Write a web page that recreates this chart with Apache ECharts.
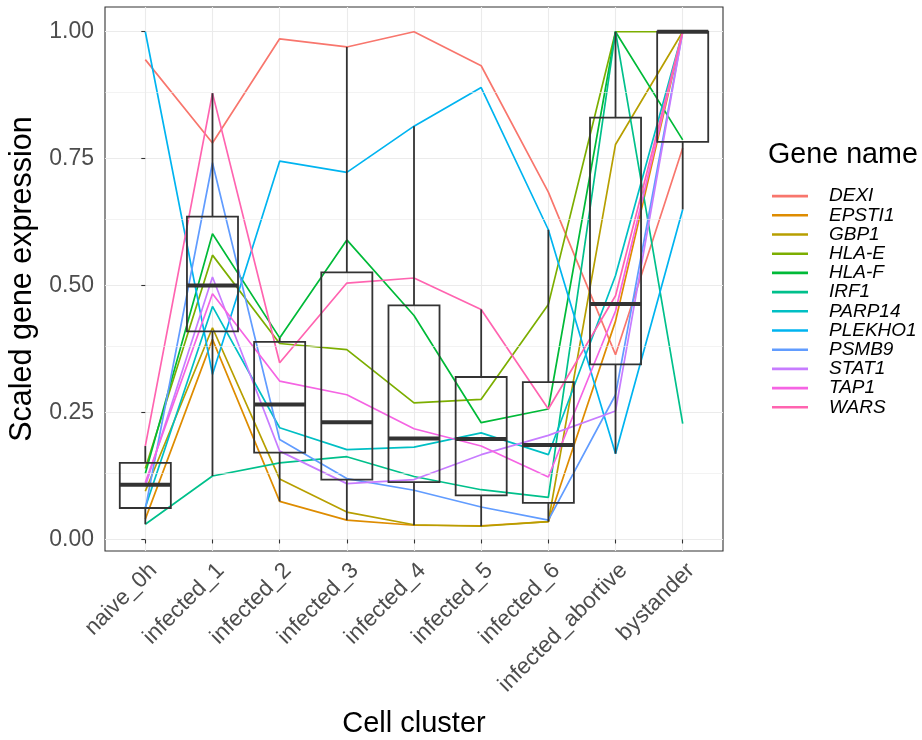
<!DOCTYPE html>
<html>
<head>
<meta charset="utf-8">
<script src="https://cdn.jsdelivr.net/npm/echarts@6/dist/echarts.min.js"></script>
<style>
  html, body { margin: 0; padding: 0; background: #fff; }
  #chart { width: 922px; height: 740px; }
</style>
</head>
<body>
<div id="chart"></div>
<script>
// Cell clusters along the x axis
const categories = ['naive_0h', 'infected_1', 'infected_2', 'infected_3', 'infected_4',
  'infected_5', 'infected_6', 'infected_abortive', 'bystander'];

// Scaled expression per gene, one value per cluster
const DEXI    = [0.945, 0.781, 0.986, 0.970, 1.000, 0.933, 0.684, 0.364, 0.771];
const EPSTI1  = [0.040, 0.394, 0.075, 0.038, 0.028, 0.027, 0.035, 0.430, 1.000];
const GBP1    = [0.095, 0.417, 0.119, 0.054, 0.029, 0.026, 0.035, 0.778, 1.000];
const HLA_E   = [0.140, 0.560, 0.386, 0.374, 0.269, 0.276, 0.463, 1.000, 1.000];
const HLA_F   = [0.130, 0.602, 0.397, 0.590, 0.441, 0.230, 0.257, 1.000, 0.787];
const IRF1    = [0.030, 0.125, 0.151, 0.163, 0.124, 0.098, 0.083, 1.000, 0.228];
const PARP14  = [0.063, 0.459, 0.220, 0.177, 0.182, 0.210, 0.167, 0.520, 1.000];
const PLEKHO1 = [1.000, 0.325, 0.745, 0.723, 0.814, 0.890, 0.610, 0.169, 0.650];
const PSMB9   = [0.060, 0.742, 0.197, 0.120, 0.097, 0.064, 0.038, 0.285, 1.000];
const STAT1   = [0.105, 0.517, 0.174, 0.110, 0.118, 0.167, 0.205, 0.253, 1.000];
const TAP1    = [0.112, 0.484, 0.312, 0.285, 0.218, 0.184, 0.123, 0.450, 1.000];
const WARS    = [0.184, 0.879, 0.348, 0.505, 0.515, 0.453, 0.257, 0.480, 1.000];

const geneNames = ['DEXI', 'EPSTI1', 'GBP1', 'HLA-E', 'HLA-F', 'IRF1', 'PARP14',
  'PLEKHO1', 'PSMB9', 'STAT1', 'TAP1', 'WARS'];
const geneValues = [DEXI, EPSTI1, GBP1, HLA_E, HLA_F, IRF1, PARP14,
  PLEKHO1, PSMB9, STAT1, TAP1, WARS];
const geneColors = ['#F8766D', '#DE8C00', '#B79F00', '#7CAE00', '#00BA38', '#00C08B',
  '#00BFC4', '#00B4F0', '#619CFF', '#C77CFF', '#F564E3', '#FF64B0'];

// Box summaries per cluster (whisker low, Q1, median, Q3, whisker high)
const boxLow    = [0.030, 0.125, 0.075, 0.038, 0.028, 0.026, 0.035, 0.169, 0.650];
const boxQ1     = [0.062, 0.410, 0.171, 0.118, 0.113, 0.087, 0.072, 0.345, 0.783];
const boxMedian = [0.108, 0.500, 0.266, 0.231, 0.199, 0.198, 0.186, 0.464, 1.000];
const boxQ3     = [0.151, 0.636, 0.389, 0.526, 0.461, 0.320, 0.310, 0.831, 1.000];
const boxHigh   = [0.184, 0.879, 0.397, 0.970, 0.814, 0.453, 0.610, 1.000, 1.000];

// Axis ticks
const yTicks = [0, 0.25, 0.5, 0.75, 1];
const yMinorTicks = [0.125, 0.375, 0.625, 0.875];
const xTicks = categories.map((c, i) => i);

const FONT = 'Liberation Sans, Arial, sans-serif';
const GRID_COLOR = '#EBEBEB';
const BOX_COLOR = '#333333';
const BOX_WIDTH = 0.76; // in x-axis units (one cluster = 1)

const chart = echarts.init(document.getElementById('chart'), null, { renderer: 'canvas' });

const lineSeries = geneNames.map((name, g) => ({
  name: name,
  type: 'line',
  data: geneValues[g].map((v, i) => [i, v]),
  symbol: 'none',
  lineStyle: { color: geneColors[g], width: 1.7 },
  itemStyle: { color: geneColors[g] },
  z: 3,
  silent: true
}));

// Box with whiskers (no end caps) and a bold median bar
function renderBox(params, api) {
  const x = api.value(0);
  const low = api.coord([x, api.value(1)]);
  const q1 = api.coord([x, api.value(2)]);
  const med = api.coord([x, api.value(3)]);
  const q3 = api.coord([x, api.value(4)]);
  const high = api.coord([x, api.value(5)]);
  const w = api.size([BOX_WIDTH, 0])[0];
  const cx = q1[0];
  const stroke = { stroke: BOX_COLOR, lineWidth: 1.8, fill: null };
  return {
    type: 'group',
    children: [
      { type: 'line', shape: { x1: cx, y1: q1[1], x2: cx, y2: low[1] }, style: stroke },
      { type: 'line', shape: { x1: cx, y1: q3[1], x2: cx, y2: high[1] }, style: stroke },
      { type: 'rect', shape: { x: cx - w / 2, y: q3[1], width: w, height: q1[1] - q3[1] },
        style: { stroke: BOX_COLOR, lineWidth: 1.8, fill: 'rgba(0,0,0,0)' } },
      { type: 'line', shape: { x1: cx - w / 2, y1: med[1], x2: cx + w / 2, y2: med[1] },
        style: { stroke: BOX_COLOR, lineWidth: 4 } }
    ]
  };
}

const option = {
  animation: false,
  backgroundColor: '#ffffff',
  textStyle: { fontFamily: FONT },
  title: {
    text: 'Gene name',
    left: 768,
    top: 141,
    padding: 0,
    textStyle: { fontFamily: FONT, fontSize: 28.7, fontWeight: 'normal', color: '#000' }
  },
  grid: {
    left: 105, right: 199, top: 7, bottom: 189,
    outerBoundsMode: 'none',
    containLabel: false,
    show: true, borderColor: '#333333', borderWidth: 1.1, backgroundColor: 'transparent'
  },
  legend: {
    orient: 'vertical',
    left: 772,
    top: 186.5,
    padding: 0,
    icon: 'rect',
    itemWidth: 36,
    itemHeight: 2.6,
    itemGap: 0,
    data: geneNames,
    textStyle: {
      fontFamily: FONT, fontSize: 19, fontStyle: 'italic', color: '#000',
      lineHeight: 19.2, padding: [0, 0, 0, 16]
    },
    selectedMode: false
  },
  xAxis: {
    type: 'value',
    min: -0.6, max: 8.6,
    splitNumber: 9, minInterval: 1, maxInterval: 1,
    name: 'Cell cluster',
    nameLocation: 'middle',
    nameGap: 158,
    nameTextStyle: { fontFamily: FONT, fontSize: 29, color: '#000' },
    axisLine: { show: false },
    axisTick: { show: true, length: 4, customValues: xTicks,
      lineStyle: { color: '#333333', width: 1.1 } },
    axisLabel: {
      rotate: 45, margin: 8, fontFamily: FONT, fontSize: 22.5, color: '#4D4D4D',
      verticalAlign: 'top',
      customValues: xTicks,
      formatter: v => (Number.isInteger(v) && categories[v]) ? categories[v] : ''
    },
    splitLine: { show: true, lineStyle: { color: GRID_COLOR, width: 1.1 } }
  },
  yAxis: {
    type: 'value',
    min: -0.0227, max: 1.0487,
    splitNumber: 4, minInterval: 0.25, maxInterval: 0.25,
    name: 'Scaled gene expression',
    nameLocation: 'middle',
    nameGap: 61,
    nameRotate: 90,
    nameTextStyle: { fontFamily: FONT, fontSize: 30.5, color: '#000' },
    axisLine: { show: false },
    axisTick: { show: true, length: 4, customValues: yTicks,
      lineStyle: { color: '#333333', width: 1.1 } },
    axisLabel: {
      margin: 11, fontFamily: FONT, fontSize: 23, color: '#4D4D4D',
      customValues: yTicks,
      formatter: v => {
        const t = yTicks.find(k => Math.abs(k - v) < 1e-9);
        return t === undefined ? '' : t.toFixed(2);
      }
    },
    splitLine: { show: true, lineStyle: { color: GRID_COLOR, width: 1.1 } }
  },
  series: [
    {
      // minor horizontal gridlines
      type: 'line',
      data: [],
      silent: true,
      z: 1,
      markLine: {
        silent: true,
        symbol: ['none', 'none'],
        label: { show: false },
        lineStyle: { color: GRID_COLOR, width: 0.6, type: 'solid' },
        data: yMinorTicks.map(v => ({ yAxis: v }))
      }
    },
    ...lineSeries,
    {
      name: 'box',
      type: 'custom',
      renderItem: renderBox,
      data: categories.map((c, i) => [i, boxLow[i], boxQ1[i], boxMedian[i], boxQ3[i], boxHigh[i]]),
      encode: { x: 0, y: [1, 2, 3, 4, 5] },
      z: 5,
      silent: true
    }
  ]
};

chart.setOption(option);
</script>
</body>
</html>
